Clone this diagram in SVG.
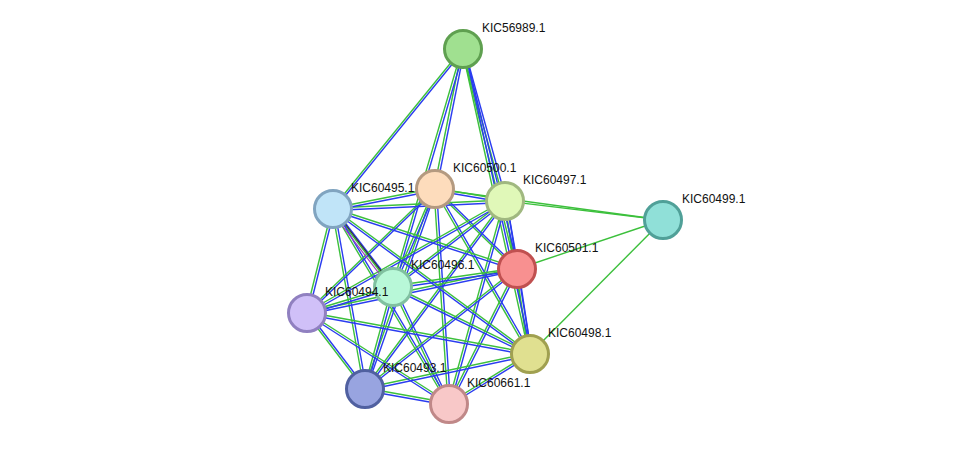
<svg xmlns="http://www.w3.org/2000/svg" width="975" height="450" viewBox="0 0 975 450">
<style>
.g line{stroke:#3cc03c;stroke-width:1.4}
.b line{stroke:#2a3cf0;stroke-width:1.4}
.n{stroke-width:3}
text{font-family:"Liberation Sans",Arial,sans-serif;font-size:12px;fill:#111}
</style>
<rect width="975" height="450" fill="#fff"/>
<g id="connectors">
<g class="g">
<line x1="663" y1="220" x2="505" y2="201"/><line x1="663" y1="220" x2="435" y2="189"/><line x1="663" y1="220" x2="517" y2="269"/><line x1="663" y1="220" x2="530" y2="354"/>
</g>
<g id="vert">
<g class="g" transform="translate(-1,0)">
<line x1="463" y1="49" x2="333" y2="209"/><line x1="463" y1="49" x2="435" y2="189"/><line x1="463" y1="49" x2="505" y2="201"/><line x1="463" y1="49" x2="517" y2="269"/><line x1="463" y1="49" x2="393" y2="287"/><line x1="463" y1="49" x2="530" y2="354"/>
<line x1="435" y1="189" x2="393" y2="287"/><line x1="435" y1="189" x2="517" y2="269"/><line x1="435" y1="189" x2="530" y2="354"/><line x1="435" y1="189" x2="365" y2="389"/><line x1="435" y1="189" x2="449" y2="404"/>
<line x1="505" y1="201" x2="517" y2="269"/><line x1="505" y1="201" x2="530" y2="354"/><line x1="505" y1="201" x2="365" y2="389"/><line x1="505" y1="201" x2="449" y2="404"/>
<line x1="333" y1="209" x2="393" y2="287"/><line x1="333" y1="209" x2="307" y2="313"/><line x1="333" y1="209" x2="365" y2="389"/><line x1="333" y1="209" x2="449" y2="404"/>
<line x1="517" y1="269" x2="530" y2="354"/><line x1="517" y1="269" x2="449" y2="404"/><line x1="393" y1="287" x2="365" y2="389"/><line x1="393" y1="287" x2="449" y2="404"/><line x1="307" y1="313" x2="365" y2="389"/>
</g>
<g class="b" transform="translate(1.5,0)">
<line x1="463" y1="49" x2="333" y2="209"/><line x1="463" y1="49" x2="435" y2="189"/><line x1="463" y1="49" x2="505" y2="201"/><line x1="463" y1="49" x2="517" y2="269"/><line x1="463" y1="49" x2="393" y2="287"/><line x1="463" y1="49" x2="530" y2="354"/>
<line x1="435" y1="189" x2="393" y2="287"/><line x1="435" y1="189" x2="517" y2="269"/><line x1="435" y1="189" x2="530" y2="354"/><line x1="435" y1="189" x2="365" y2="389"/><line x1="435" y1="189" x2="449" y2="404"/>
<line x1="505" y1="201" x2="517" y2="269"/><line x1="505" y1="201" x2="530" y2="354"/><line x1="505" y1="201" x2="365" y2="389"/><line x1="505" y1="201" x2="449" y2="404"/>
<line x1="333" y1="209" x2="393" y2="287"/><line x1="333" y1="209" x2="307" y2="313"/><line x1="333" y1="209" x2="365" y2="389"/><line x1="333" y1="209" x2="449" y2="404"/>
<line x1="517" y1="269" x2="530" y2="354"/><line x1="517" y1="269" x2="449" y2="404"/><line x1="393" y1="287" x2="365" y2="389"/><line x1="393" y1="287" x2="449" y2="404"/><line x1="307" y1="313" x2="365" y2="389"/>
</g>
</g>
<g id="horiz">
<g class="g" transform="translate(0,-1)">
<line x1="435" y1="189" x2="307" y2="313"/><line x1="505" y1="201" x2="393" y2="287"/><line x1="505" y1="201" x2="307" y2="313"/><line x1="435" y1="189" x2="505" y2="201"/>
<line x1="333" y1="209" x2="530" y2="354"/><line x1="333" y1="209" x2="517" y2="269"/><line x1="333" y1="209" x2="435" y2="189"/><line x1="333" y1="209" x2="505" y2="201"/>
<line x1="517" y1="269" x2="393" y2="287"/><line x1="517" y1="269" x2="307" y2="313"/><line x1="517" y1="269" x2="365" y2="389"/>
<line x1="393" y1="287" x2="307" y2="313"/><line x1="393" y1="287" x2="530" y2="354"/><line x1="307" y1="313" x2="530" y2="354"/><line x1="307" y1="313" x2="449" y2="404"/>
<line x1="530" y1="354" x2="365" y2="389"/><line x1="530" y1="354" x2="449" y2="404"/><line x1="365" y1="389" x2="449" y2="404"/>
</g>
<g class="b" transform="translate(0,1.5)">
<line x1="435" y1="189" x2="307" y2="313"/><line x1="505" y1="201" x2="393" y2="287"/><line x1="505" y1="201" x2="307" y2="313"/><line x1="435" y1="189" x2="505" y2="201"/>
<line x1="333" y1="209" x2="530" y2="354"/><line x1="333" y1="209" x2="517" y2="269"/><line x1="333" y1="209" x2="435" y2="189"/><line x1="333" y1="209" x2="505" y2="201"/>
<line x1="517" y1="269" x2="393" y2="287"/><line x1="517" y1="269" x2="307" y2="313"/><line x1="517" y1="269" x2="365" y2="389"/>
<line x1="393" y1="287" x2="307" y2="313"/><line x1="393" y1="287" x2="530" y2="354"/><line x1="307" y1="313" x2="530" y2="354"/><line x1="307" y1="313" x2="449" y2="404"/>
<line x1="530" y1="354" x2="365" y2="389"/><line x1="530" y1="354" x2="449" y2="404"/><line x1="365" y1="389" x2="449" y2="404"/>
</g>
</g>
<line x1="335" y1="211" x2="395" y2="289" stroke="#333" stroke-width="1.2"/>
<line x1="331" y1="211" x2="391" y2="289" stroke="#a040c0" stroke-width="1.2"/>
</g>
<g id="n56989"><circle class="n" cx="463" cy="49" r="18.5" fill="#a0e090" stroke="#5fa050"/><text x="482" y="32">KIC56989.1</text></g>
<g id="n60500"><circle class="n" cx="435" cy="189" r="18.5" fill="#fddcbc" stroke="#b49a80"/><text x="453" y="172">KIC60500.1</text></g>
<g id="n60497"><circle class="n" cx="505" cy="201" r="18.5" fill="#e0f8b8" stroke="#a0b880"/><text x="523" y="184">KIC60497.1</text></g>
<g id="n60495"><circle class="n" cx="333" cy="209" r="18.5" fill="#c0e4f8" stroke="#80a4c0"/><text x="351" y="192">KIC60495.1</text></g>
<g id="n60499"><circle class="n" cx="663" cy="220" r="18.5" fill="#90e0d8" stroke="#50a098"/><text x="682" y="203">KIC60499.1</text></g>
<g id="n60501"><circle class="n" cx="517" cy="269" r="18.5" fill="#f89090" stroke="#c05050"/><text x="535" y="252">KIC60501.1</text></g>
<g id="n60496"><circle class="n" cx="393" cy="287" r="18.5" fill="#b8f8d8" stroke="#80c0a0"/><text x="411" y="269">KIC60496.1</text></g>
<g id="n60494"><circle class="n" cx="307" cy="313" r="18.5" fill="#d0c0f8" stroke="#9080c0"/><text x="325" y="296">KIC60494.1</text></g>
<g id="n60498"><circle class="n" cx="530" cy="354" r="18.5" fill="#e0e090" stroke="#a0a050"/><text x="548" y="337">KIC60498.1</text></g>
<g id="n60493"><circle class="n" cx="365" cy="389" r="18.5" fill="#98a4e0" stroke="#5060a0"/><text x="383" y="372">KIC60493.1</text></g>
<g id="n60661"><circle class="n" cx="449" cy="404" r="18.5" fill="#f8c8c8" stroke="#c08888"/><text x="467" y="387">KIC60661.1</text></g>
</svg>
